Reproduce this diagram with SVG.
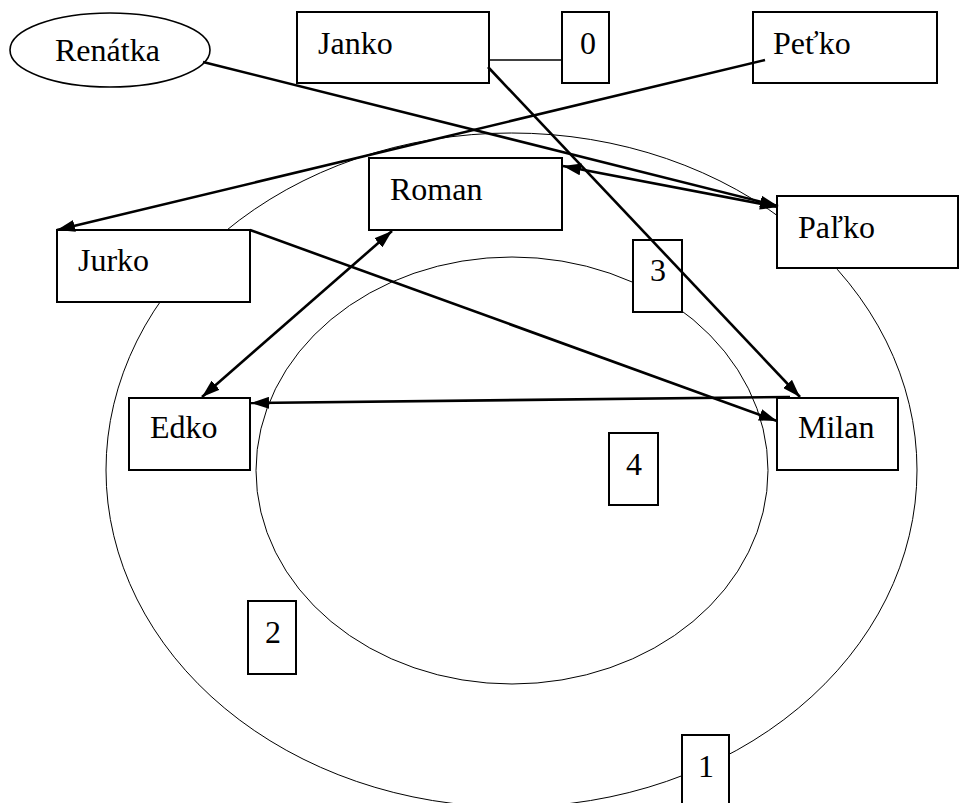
<svg xmlns="http://www.w3.org/2000/svg" width="961" height="803" viewBox="0 0 961 803">
  <style>
    .ring { fill: none; stroke: #000; stroke-width: 1; }
    .box { fill: #fff; stroke: #000; stroke-width: 2; }
    .oval { fill: #fff; stroke: #000; stroke-width: 1.6; }
    .lbl { font-family: "Liberation Serif", "Times New Roman", serif; font-size: 32px; fill: #000; }
    .edge { fill: none; stroke: #000; stroke-width: 2.6; }
    .thin { fill: none; stroke: #000; stroke-width: 1.6; }
  </style>
  <defs>
    <marker id="ah" viewBox="0 0 18 12" refX="18" refY="6" markerWidth="18" markerHeight="12" markerUnits="userSpaceOnUse" orient="auto-start-reverse">
      <path d="M0,0 L18,6 L0,12 z" fill="#000"/>
    </marker>
  </defs>

  <!-- concentric rings -->
  <g id="rings">
    <ellipse class="ring" cx="511.5" cy="470" rx="405.5" ry="337"/>
    <ellipse class="ring" cx="512" cy="470.5" rx="256" ry="213.5"/>
  </g>

  <!-- nodes -->
  <g id="renatka">
    <ellipse class="oval" cx="110" cy="50" rx="100" ry="37"/>
    <text class="lbl" x="55" y="61">Renátka</text>
  </g>
  <g id="janko">
    <rect class="box" x="297" y="12" width="192" height="71"/>
    <text class="lbl" x="318" y="54">Janko</text>
  </g>
  <g id="n0">
    <rect class="box" x="562" y="12" width="47" height="71"/>
    <text class="lbl" x="580" y="54">0</text>
  </g>
  <g id="petko">
    <rect class="box" x="753" y="12" width="184" height="71"/>
    <text class="lbl" x="773" y="54">Peťko</text>
  </g>
  <g id="roman">
    <rect class="box" x="369" y="158" width="193" height="72"/>
    <text class="lbl" x="390" y="200">Roman</text>
  </g>
  <g id="palko">
    <rect class="box" x="777" y="196" width="181" height="72"/>
    <text class="lbl" x="798" y="238">Paľko</text>
  </g>
  <g id="jurko">
    <rect class="box" x="57" y="230" width="193" height="72"/>
    <text class="lbl" x="78" y="271">Jurko</text>
  </g>
  <g id="n3">
    <rect class="box" x="633" y="240" width="49" height="72"/>
    <text class="lbl" x="650" y="281">3</text>
  </g>
  <g id="edko">
    <rect class="box" x="129" y="398" width="121" height="72"/>
    <text class="lbl" x="150" y="438">Edko</text>
  </g>
  <g id="milan">
    <rect class="box" x="777" y="398" width="121" height="72"/>
    <text class="lbl" x="798" y="438">Milan</text>
  </g>
  <g id="n4">
    <rect class="box" x="609" y="433" width="49" height="72"/>
    <text class="lbl" x="626" y="475">4</text>
  </g>
  <g id="n2">
    <rect class="box" x="248" y="601" width="48" height="73"/>
    <text class="lbl" x="265" y="643">2</text>
  </g>
  <g id="n1">
    <rect class="box" x="682" y="735" width="47" height="75"/>
    <text class="lbl" x="698" y="777">1</text>
  </g>

  <!-- connectors -->
  <g id="connectors">
    <line class="thin" x1="489" y1="60" x2="562" y2="60"/>
    <line class="edge" x1="203" y1="62" x2="778" y2="206" marker-end="url(#ah)"/>
    <line class="edge" x1="563" y1="166" x2="778" y2="207" marker-start="url(#ah)" marker-end="url(#ah)"/>
    <line class="edge" x1="765" y1="60" x2="57" y2="230" marker-end="url(#ah)"/>
    <line class="edge" x1="488" y1="67" x2="800" y2="397" marker-end="url(#ah)"/>
    <line class="edge" x1="250" y1="230" x2="777" y2="421" marker-end="url(#ah)"/>
    <line class="edge" x1="392" y1="231" x2="202" y2="397" marker-start="url(#ah)" marker-end="url(#ah)"/>
    <line class="edge" x1="790" y1="397" x2="251" y2="403" marker-end="url(#ah)"/>
  </g>
</svg>
